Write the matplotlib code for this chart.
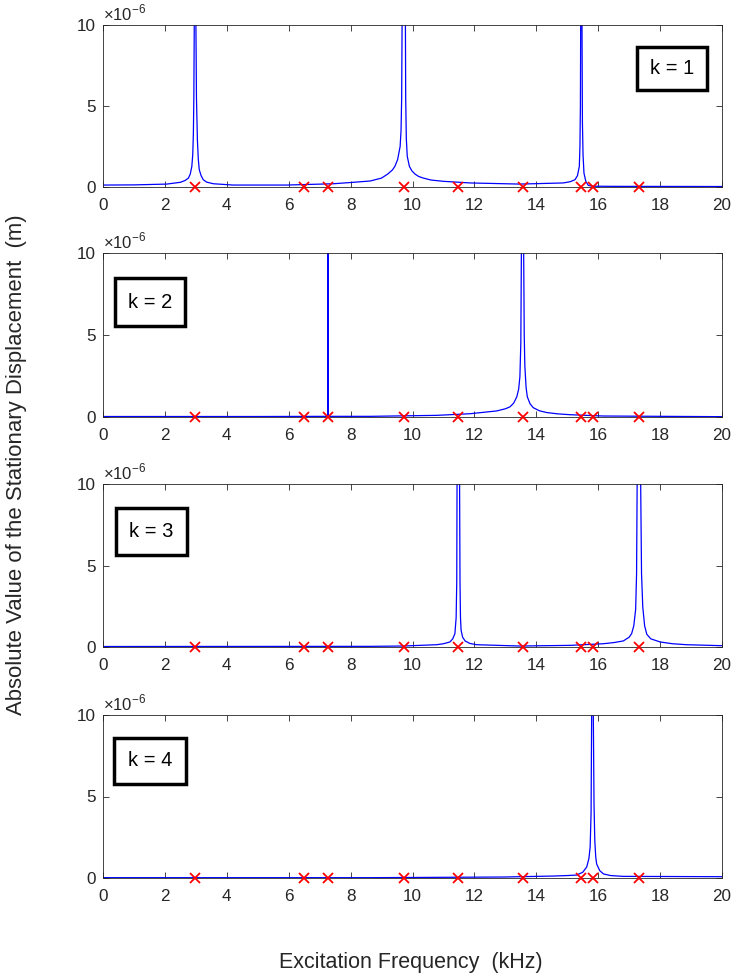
import numpy as np
import matplotlib
matplotlib.use('Agg')
from matplotlib import pyplot as plt
from matplotlib.patches import Rectangle

plt.rcParams['font.family'] = ['Liberation Sans', 'DejaVu Sans']
plt.rcParams['mathtext.fontset'] = 'custom'
plt.rcParams['mathtext.rm'] = 'Liberation Sans'

# natural frequencies (kHz) marked with red crosses
nat_freqs = [2.97, 6.48, 7.26, 9.71, 11.48, 13.56, 15.43, 15.82, 17.31]

# |displacement| in units of 1e-6 m (peaks go off-scale)
f_k1 = [0, 1.0, 2.06, 2.5, 2.65, 2.76, 2.82, 2.87, 2.9, 2.92, 2.935, 2.95, 2.975,
        3.0, 3.02, 3.05, 3.08, 3.11, 3.17, 3.24, 3.35, 3.57, 4.21,
        5.93, 7.44, 8.09, 8.63, 9.0, 9.2, 9.35, 9.43, 9.52, 9.6, 9.63, 9.65, 9.665, 9.715,
        9.77, 9.78, 9.80, 9.83, 9.9, 9.98, 10.08, 10.2, 10.35, 10.6, 11.0, 11.86, 13.47,
        14.87, 15.1, 15.25, 15.33, 15.39, 15.41, 15.425, 15.435, 15.455,
        15.475, 15.49, 15.51, 15.54, 15.6, 15.68, 15.8, 16.5, 20.0]
u_k1 = [0.12, 0.13, 0.18, 0.29, 0.4, 0.55, 0.8, 1.27, 2.0, 3.3, 5.5, 10.5, 30,
        10.5, 5.5, 2.9, 1.7, 1.07, 0.7, 0.45, 0.3, 0.2, 0.12,
        0.12, 0.2, 0.29, 0.37, 0.55, 0.8, 1.05, 1.27, 1.7, 2.5, 3.5, 5.5, 10.5, 30,
        10.5, 5.5, 3.0, 1.9, 1.27, 1.0, 0.8, 0.65, 0.55, 0.43, 0.35, 0.25, 0.18,
        0.25, 0.33, 0.45, 0.7, 1.27, 2.5, 5.0, 10.5, 30,
        10.5, 4.0, 2.0, 0.86, 0.35, 0.1, 0.05, 0.04, 0.03]

f_k2 = [0, 5.0, 7.26, 7.27, 7.28, 8.63, 10.78, 11.86, 12.72, 13.0, 13.15, 13.27, 13.37,
        13.43, 13.47, 13.5, 13.52, 13.555, 13.59, 13.61, 13.63, 13.67, 13.71, 13.8, 13.9,
        14.1, 14.34, 14.7, 15.09, 16.16, 20.0]
u_k2 = [0.03, 0.03, 0.04, 30, 0.04, 0.04, 0.1, 0.2, 0.37, 0.5, 0.62, 0.85, 1.23,
        1.7, 2.46, 4.5, 10.5, 30, 10.5, 5.0, 3.1, 1.8, 1.23, 0.8, 0.57,
        0.38, 0.27, 0.19, 0.14, 0.06, 0.02]

f_k3 = [0, 8.63, 9.70, 10.78, 11.0, 11.21, 11.3, 11.37, 11.41, 11.43, 11.44, 11.48,
        11.52, 11.535, 11.55, 11.57, 11.62, 11.7, 11.85, 12.07, 13.47,
        15.09, 16.16, 16.5, 16.81, 17.0, 17.08, 17.15, 17.21, 17.24, 17.26, 17.315,
        17.37, 17.4, 17.44, 17.5, 17.57, 17.7, 18.0, 18.4, 18.86, 20.0]
u_k3 = [0.03, 0.04, 0.06, 0.14, 0.2, 0.31, 0.5, 0.82, 1.8, 4.0, 10.5, 30,
        10.5, 4.0, 1.8, 1.03, 0.6, 0.37, 0.22, 0.14, 0.06,
        0.1, 0.2, 0.27, 0.37, 0.6, 0.82, 1.3, 2.3, 4.5, 10.5, 30,
        10.5, 4.5, 2.46, 1.3, 0.78, 0.5, 0.31, 0.2, 0.14, 0.08]

f_k4 = [0, 8.63, 12.94, 14.55, 15.0, 15.3, 15.5, 15.63, 15.7, 15.74, 15.77, 15.79, 15.815,
        15.84, 15.865, 15.89, 15.92, 15.95, 16.05, 16.17, 16.4, 16.81, 20.0]
u_k4 = [0.02, 0.02, 0.06, 0.12, 0.15, 0.18, 0.35, 0.68, 1.2, 1.9, 4.0, 10.5, 30,
        10.5, 4.5, 2.3, 1.3, 0.86, 0.45, 0.25, 0.15, 0.1, 0.08]

curves = [(f_k1, u_k1), (f_k2, u_k2), (f_k3, u_k3), (f_k4, u_k4)]
labels = ['k = 1', 'k = 2', 'k = 3', 'k = 4']

W, H = 732, 974
fig = plt.figure(figsize=(W / 100, H / 100), dpi=100)

# axes pixel extents (top, bottom) and label box extents (x0, x1, y0, y1) in axes fraction
ax_rows = [(25, 187), (253, 417), (484, 647), (715, 878)]
boxes = [(0.862, 0.976, 0.599, 0.866),
         (0.019, 0.1325, 0.555, 0.846),
         (0.0205, 0.136, 0.564, 0.851),
         (0.0178, 0.134, 0.577, 0.861)]
left, right = 103, 722
gray = '#262626'

for i, ((f, u), lab, bx) in enumerate(zip(curves, labels, boxes)):
    top, bot = ax_rows[i]
    ax = fig.add_axes([left / W, 1 - bot / H, (right - left) / W, (bot - top) / H])
    ax.plot(f, u, color='blue', lw=0.9)
    ax.plot(nat_freqs, np.zeros(len(nat_freqs)), 'x', color='red', ms=7.5, mew=1.3,
            clip_on=False, zorder=5)
    ax.set_xlim(0, 20)
    ax.set_ylim(0, 10)
    ax.set_xticks(np.arange(0, 21, 2))
    ax.set_yticks([0, 5, 10])
    ax.tick_params(direction='in', top=True, right=True, length=4.5, width=0.6,
                   labelsize=12.3, colors=gray)
    ax.tick_params(axis='x', pad=8)
    ax.tick_params(axis='y', pad=5)
    for s in ax.spines.values():
        s.set_color(gray)
        s.set_linewidth(0.6)
    ax.text(0.0, 1.01, r'$\times10^{-6}$', transform=ax.transAxes, fontsize=12,
            color=gray, ha='left', va='bottom')
    x0, x1, y0, y1 = bx
    ax.add_patch(Rectangle((x0, y0), x1 - x0, y1 - y0, transform=ax.transAxes,
                           fill=True, facecolor='white', edgecolor='black', lw=2.5,
                           zorder=6))
    ax.text((x0 + x1) / 2, (y0 + y1) / 2, lab, transform=ax.transAxes, fontsize=14.5,
            ha='center', va='center', zorder=7)

fig.text(411 / W, 1 - 968 / H, 'Excitation Frequency  (kHz)', fontsize=15.5,
         color=gray, ha='center', va='baseline')
fig.text(17 / W, 1 - 464.5 / H, 'Absolute Value of the Stationary Displacement  (m)',
         fontsize=15.9, color=gray, rotation=90, ha='center', va='center')

fig.savefig('out.png', dpi=100)
